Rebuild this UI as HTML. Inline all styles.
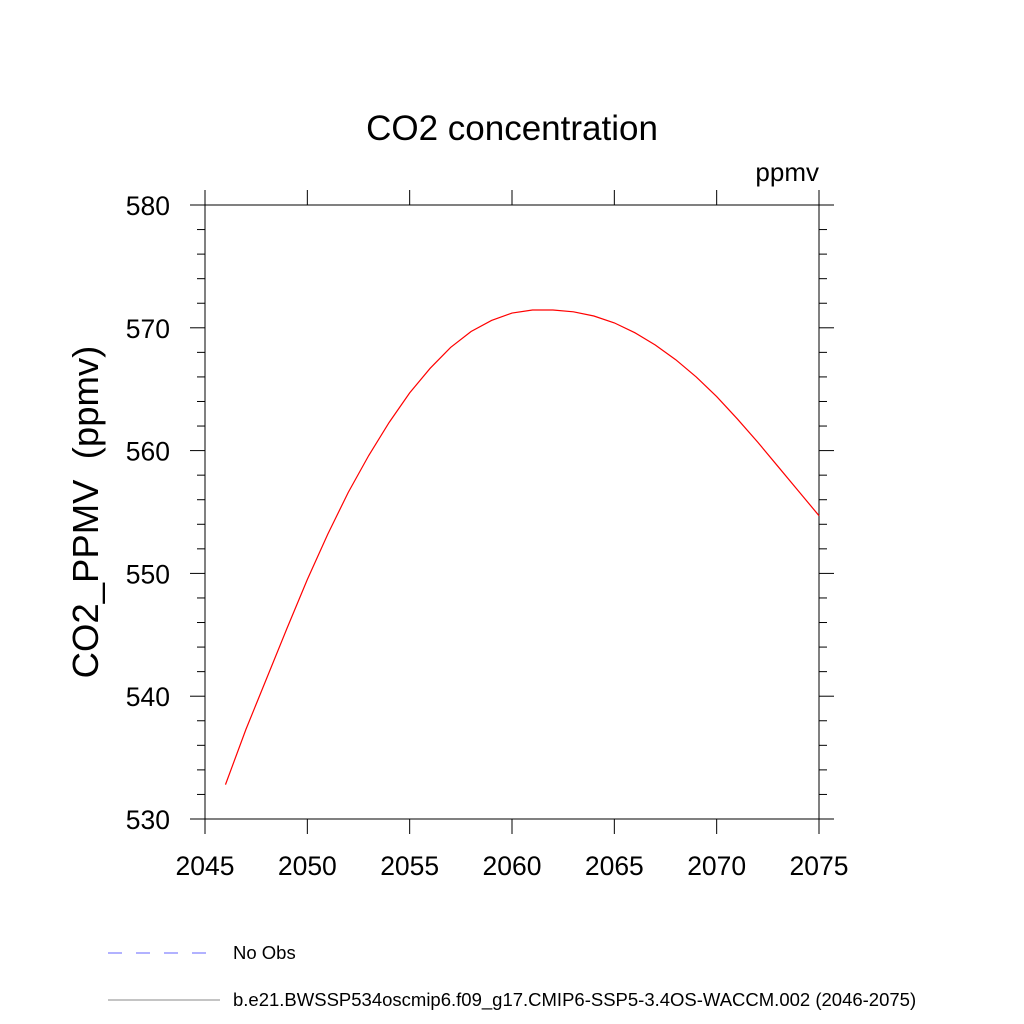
<!DOCTYPE html>
<html><head><meta charset="utf-8"><style>
body{margin:0;background:#fff;}
svg{display:block;font-family:"Liberation Sans",sans-serif;}
</style></head><body>
<svg id="chart" width="1024" height="1024" viewBox="0 0 1024 1024">
<rect width="1024" height="1024" fill="#fff"/>
<text x="512" y="140" font-size="35" text-anchor="middle">CO2 concentration</text>
<text x="819" y="181" font-size="26" text-anchor="end">ppmv</text>
<text transform="translate(98,512) rotate(-90)" font-size="36.5" text-anchor="middle" xml:space="preserve">CO2_PPMV  (ppmv)</text>
<g id="axes"></g>
<polyline id="series" fill="none" stroke="#ff0000" stroke-width="1.2"/>
<g>
<line x1="108" y1="953" x2="216" y2="953" stroke="#6666ff" stroke-width="1" stroke-dasharray="14,14"/>
<text x="233" y="959" font-size="18.5">No Obs</text>
<line x1="108" y1="1000" x2="220" y2="1000" stroke="#888" stroke-width="1"/>
<text x="233" y="1006" font-size="18.5">b.e21.BWSSP534oscmip6.f09_g17.CMIP6-SSP5-3.4OS-WACCM.002 (2046-2075)</text>
</g>
</svg>
<script>
const years=[2046,2047,2048,2049,2050,2051,2052,2053,2054,2055,2056,2057,2058,2059,2060,2061,2062,2063,2064,2065,2066,2067,2068,2069,2070,2071,2072,2073,2074,2075];
const co2=[532.8,537.3,541.4,545.5,549.5,553.2,556.6,559.6,562.3,564.7,566.7,568.4,569.7,570.6,571.2,571.45,571.45,571.3,570.96,570.4,569.6,568.6,567.4,566.0,564.4,562.6,560.7,558.7,556.7,554.7];
const xTicks=[2045,2050,2055,2060,2065,2070,2075];
const yTicks=[530,540,550,560,570,580];
const L=205,R=819,T=205,B=819,x0=2045,x1=2075,y0=530,y1=580;
const sx=v=>L+(v-x0)/(x1-x0)*(R-L);
const sy=v=>B-(v-y0)/(y1-y0)*(B-T);
const NS='http://www.w3.org/2000/svg';
const ax=document.getElementById('axes');
function ln(a,b,c,d,name){const e=document.createElementNS(NS,'line');e.setAttribute('x1',a);e.setAttribute('y1',b);e.setAttribute('x2',c);e.setAttribute('y2',d);e.setAttribute('stroke','#000');e.setAttribute('stroke-width','1');


ax.appendChild(e);return e;}
function tx(x,y,s,anchor,name){const e=document.createElementNS(NS,'text');e.setAttribute('x',x);e.setAttribute('y',y);e.setAttribute('font-size','26.5');e.setAttribute('text-anchor',anchor);e.textContent=s;


ax.appendChild(e);}
const fr=document.createElementNS(NS,'rect');fr.setAttribute('x',L);fr.setAttribute('y',T);fr.setAttribute('width',R-L);fr.setAttribute('height',B-T);fr.setAttribute('fill','none');fr.setAttribute('stroke','#000');


ax.appendChild(fr);
xTicks.forEach(v=>{const x=sx(v);ln(x,B,x,B+15,'x-tick');ln(x,T,x,T-15,'x-tick-top');tx(x,875,String(v),'middle','x-tick-label');});
for(let v=y0;v<=y1;v+=2){const y=sy(v);const major=(v%10===0);const len=major?15:8;ln(L-len,y,L,y,major?'y-tick':'y-minor-tick');ln(R,y,R+len,y,major?'y-tick-right':'y-minor-tick-right');}
yTicks.forEach(v=>{tx(170,sy(v)+10,String(v),'end','y-tick-label');});
document.getElementById('series').setAttribute('points',years.map((y,i)=>sx(y)+','+sy(co2[i])).join(' '));
</script>
</body></html>
